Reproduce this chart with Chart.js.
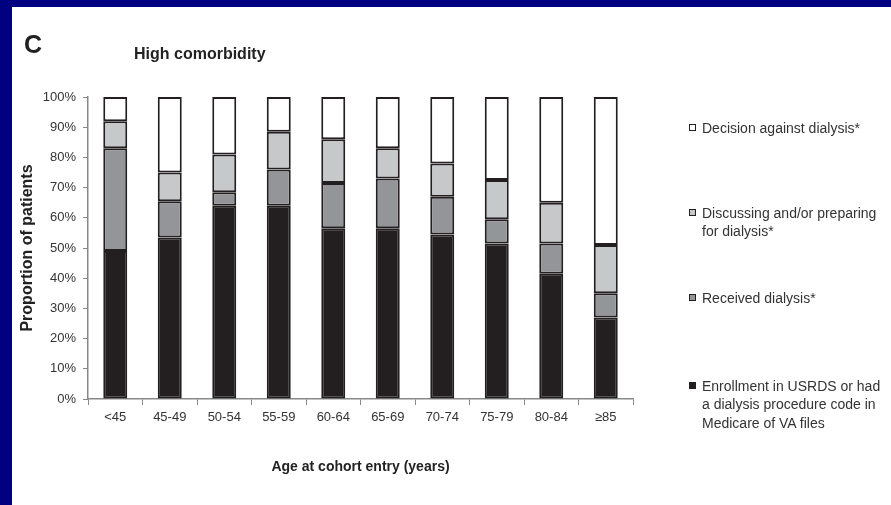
<!DOCTYPE html>
<html lang="en">
<head>
  <meta charset="UTF-8">
  <title>High comorbidity</title>
  <script src="https://cdn.jsdelivr.net/npm/chart.js"></script>
  <style>
    html, body {
      margin: 0;
      padding: 0;
      width: 891px;
      height: 505px;
      overflow: hidden;
      background: #000080;
      font-family: "Liberation Sans", Arial, sans-serif;
    }

    #panel {
      position: absolute;
      left: 12px;
      top: 7px;
      right: 0;
      bottom: 0;
      background: white;
    }

    #grafico {
      position: absolute;
      left: 0;
      top: 0;
    }

    #letra {
      position: absolute;
      left: 24px;
      top: 30px;
      font-size: 25px;
      font-weight: bold;
      color: #222;
    }

    #subtitulo {
      position: absolute;
      left: 134px;
      top: 45px;
      font-size: 16px;
      font-weight: bold;
      color: #222;
    }

    .item {
      position: absolute;
      left: 702px;
      font-size: 14px;
      line-height: 18.5px;
      color: #333;
      white-space: nowrap;
    }

    .item .marca {
      position: absolute;
      left: -13px;
      top: 5px;
      width: 5px;
      height: 5px;
      border: 1.5px solid #231f20;
    }
  </style>
</head>
<body>
  <div id="panel"></div>
  <canvas id="grafico" width="891" height="505"></canvas>
  <div id="letra">C</div>
  <div id="subtitulo">High comorbidity</div>
  <div id="leyenda"></div>

  <script>
    const categories = ['<45', '45-49', '50-54', '55-59', '60-64', '65-69', '70-74', '75-79', '80-84', '\u226585'];

    // percent of patients in each group, bottom to top of the stack
    const enrollment = [49, 53.5, 64, 64, 56.5, 56.5, 54.5, 51.5, 41.5, 27];
    const received = [34, 12, 4.5, 12, 15, 16.5, 12.5, 8, 10, 8];
    const discussing = [9, 9.5, 12.5, 12.5, 14.5, 10, 11, 13, 13.5, 16];
    const decision = [8, 25, 19, 11.5, 14, 17, 22, 27.5, 35, 49];

    const yTicks = [0, 10, 20, 30, 40, 50, 60, 70, 80, 90, 100];

    const seriesNames = [
      ['Enrollment in USRDS or had', 'a dialysis procedure code in', 'Medicare of VA files'],
      ['Received dialysis*'],
      ['Discussing and/or preparing', 'for dialysis*'],
      ['Decision against dialysis*']
    ];
    const seriesColors = ['#231f20', '#939598', '#c7c8ca', '#ffffff'];
    const seriesData = [enrollment, received, discussing, decision];

    const fuente = '"Liberation Sans", Arial, sans-serif';

    const datasets = seriesData.map((d, i) => ({
      label: seriesNames[i].join(' '),
      data: d,
      backgroundColor: seriesColors[i],
      borderColor: '#231f20',
      borderWidth: 2,
      borderSkipped: false,
      categoryPercentage: 1,
      barPercentage: 0.44
    }));

    // legend, top item first
    const leyenda = document.getElementById('leyenda');
    const tops = [376.7, 288.7, 203.7, 118.5];
    for (let i = seriesNames.length - 1; i >= 0; i--) {
      const item = document.createElement('div');
      item.className = 'item';
      item.style.top = tops[i] + 'px';
      item.innerHTML = '<span class="marca" style="background:' + seriesColors[i] + '"></span>' +
        seriesNames[i].join('<br>');
      leyenda.appendChild(item);
    }

    const ctx = document.getElementById('grafico').getContext('2d');
    new Chart(ctx, {
      type: 'bar',
      data: {
        labels: categories,
        datasets: datasets
      },
      options: {
        responsive: false,
        animation: false,
        devicePixelRatio: 1,
        layout: {
          padding: { left: 18, right: 258, top: 97, bottom: 29 }
        },
        plugins: {
          legend: { display: false },
          tooltip: { enabled: false }
        },
        scales: {
          x: {
            stacked: true,
            grid: {
              drawOnChartArea: false,
              drawTicks: true,
              tickLength: 6,
              color: '#888'
            },
            border: { display: true, color: '#888', width: 1.5 },
            ticks: {
              color: '#333',
              padding: 5,
              maxRotation: 0,
              font: { family: fuente, size: 13 }
            },
            title: {
              display: true,
              text: 'Age at cohort entry (years)',
              color: '#222',
              padding: 0,
              font: { family: fuente, size: 14, weight: 'bold' }
            },
            afterFit: (scale) => { scale.height = 77; }
          },
          y: {
            stacked: true,
            min: 0,
            max: 100,
            afterBuildTicks: (scale) => { scale.ticks = yTicks.map(v => ({ value: v })); },
            grid: {
              drawOnChartArea: false,
              drawTicks: true,
              tickLength: 5,
              color: '#888'
            },
            border: { display: true, color: '#888', width: 1.5 },
            ticks: {
              color: '#333',
              padding: 7,
              font: { family: fuente, size: 13 },
              callback: (v) => v + '%'
            },
            title: {
              display: true,
              text: 'Proportion of patients',
              color: '#222',
              padding: 0,
              font: { family: fuente, size: 16, weight: 'bold' }
            },
            afterFit: (scale) => { scale.width = 70; }
          }
        }
      }
    });
  </script>
</body>
</html>
